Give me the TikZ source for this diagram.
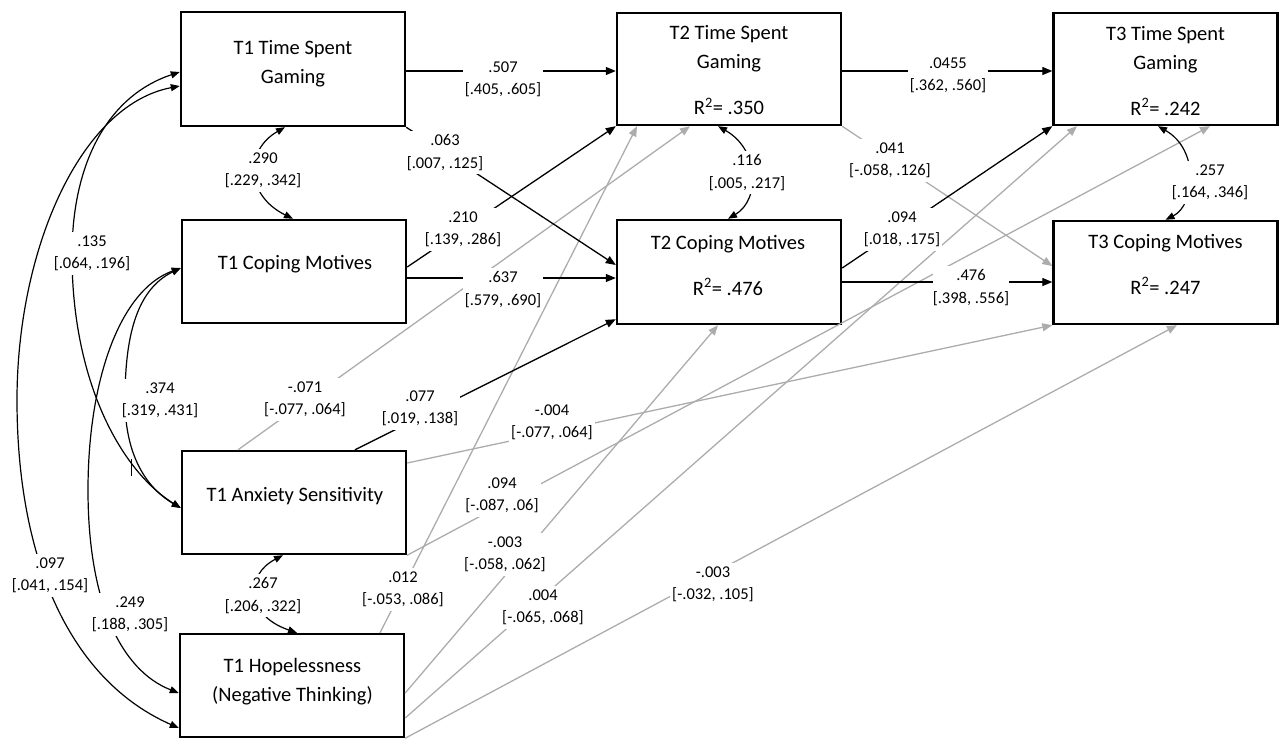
\documentclass[tikz,border=0pt]{standalone}
\usepackage{fontspec}
\setmainfont{Carlito}
\usetikzlibrary{arrows.meta,calc}
\definecolor{lg}{RGB}{172,172,172}
\begin{document}
\begin{tikzpicture}[x=1pt,y=-1pt,
  box/.style={draw, line width=2.4pt, minimum width=224pt, minimum height=103pt, inner sep=0pt},
  btxt/.style={align=center, font=\fontsize{20.5}{29}\selectfont, inner sep=0pt},
  lbl/.style={align=center, font=\fontsize{16.5}{22.5}\selectfont, fill=white, inner xsep=2pt, inner ysep=4pt},
  tip/.tip={Triangle[length=10pt,width=8pt]},
  blk/.style={line width=1.3pt, -tip},
  gry/.style={line width=1.3pt, draw=lg, -{Triangle[length=10pt,width=8pt,color=lg]}},
  cov/.style={line width=1.2pt, {Triangle[length=9pt,width=7pt]}-{Triangle[length=9pt,width=7pt]}},
]
\useasboundingbox (0,0) rectangle (1280,740);

% boxes
\node[box, minimum height=114pt] (t1g) at (293,69) {};
\node[box] (t1c) at (294,271.5) {};
\node[box] (t1a) at (294,502.5) {};
\node[box] (t1h) at (292,685.5) {};
\node[box, minimum height=112pt] (t2g) at (729,69) {};
\node[box, minimum height=104pt] (t2c) at (729,272) {};
\node[box, minimum height=112pt] (t3g) at (1165.5,69) {};
\node[box] (t3c) at (1165.5,272.5) {};

% box texts
\node[btxt] (t1gt) at (293,64) {T1 Time Spent\\Gaming};
\node[btxt] (t1ct) at (295,264.5) {T1 Coping Motives};
\node[btxt] (t1at) at (295,496.5) {T1 Anxiety Sensitivity};
\node[btxt] (t1ht) at (292.5,681.5) {T1 Hopelessness\\(Negative Thinking)};
\node[btxt] (t2gt) at (729,70.5) {T2 Time Spent\\Gaming\\[17pt]R\textsuperscript{2}= .350};
\node[btxt] (t2ct) at (728,265) {T2 Coping Motives\\[17pt]R\textsuperscript{2}= .476};
\node[btxt] (t3gt) at (1165.5,71) {T3 Time Spent\\Gaming\\[17pt]R\textsuperscript{2}= .242};
\node[btxt] (t3ct) at (1165.5,264.5) {T3 Coping Motives\\[17pt]R\textsuperscript{2}= .247};

% gray paths
\draw[gry] ([xshift=-56pt]t1a.north) -- ([xshift=-39pt]t2g.south);
\draw[gry] ([xshift=88pt]t1h.north) -- ([xshift=-92pt]t2g.south);
\draw[gry] ([yshift=39.5pt]t1a.east) -- (t3c.south west);
\draw[gry] (t1a.south east) -- ([xshift=44.5pt]t3g.south);
\draw[gry] ([yshift=-7.5pt]t1h.east) -- ([xshift=-11pt]t2c.south);
\draw[gry] ([yshift=-32.5pt]t1h.east) -- ([xshift=-88.5pt]t3g.south);
\draw[gry] (t1h.south east) -- ([xshift=11.5pt]t3c.south);
\draw[gry] (t2g.south east) -- ([yshift=6.5pt]t3c.west);

% black paths
\draw[blk] ([yshift=-2pt]t1g.east) -- ([yshift=-2pt]t2g.west);
\draw[blk] ([yshift=-2pt]t2g.east) -- ([yshift=-2pt]t3g.west);
\draw[blk] ([yshift=-6.5pt]t1c.east) -- ([yshift=-6pt]t2c.west);
\draw[blk] ([yshift=-10pt]t2c.east) -- ([yshift=-9.5pt]t3c.west);
\draw[blk] (t1g.south east) -- ([yshift=7pt]t2c.west);
\draw[blk] ([yshift=4.5pt]t1c.east) -- (t2g.south west);
\draw[blk] ([xshift=61pt]t1a.north) -- ([yshift=6pt]t2c.south west);
\draw[blk] ([yshift=4pt]t2c.east) -- (t3g.south west);

% covariances
\draw[cov] ([xshift=-8pt]t1g.south) .. controls (245,150) and (245,195) .. ([xshift=-1pt]t1c.north);
\draw[cov] ([xshift=-11pt]t2g.south) .. controls (760,150) and (760,200) .. ([xshift=-1pt]t2c.north);
\draw[cov] ([xshift=-7.5pt]t3g.south) .. controls (1200,150) and (1195,205) .. (t3c.north);
\draw[cov] ([xshift=-11pt]t1a.south) .. controls (245,575) and (245,615) .. ([xshift=5pt]t1h.north);
\coordinate (w135) at (72,255);
\coordinate (w097) at (17,400);
\coordinate (w374) at (125,400);
\coordinate (w249) at (88,490);
\draw[cov] ([yshift=-3pt]t1g.west) .. controls (110,95) and (72,160) .. (w135) .. controls (72,380) and (120,470) .. ([yshift=-5.5pt]t1a.west);
\draw[cov] ([yshift=-17pt]t1g.west) .. controls (80,105) and (17,250) .. (w097) .. controls (17,560) and (70,680) .. ([yshift=-42.5pt]t1h.west);
\draw[cov] ([yshift=3.5pt]t1c.west) .. controls (135,290) and (125,340) .. (w374) .. controls (125,460) and (150,490) .. ([yshift=-5.5pt]t1a.west);
\draw[cov] ([yshift=3.5pt]t1c.west) .. controls (120,290) and (88,380) .. (w249) .. controls (88,600) and (120,670) .. ([yshift=-7.5pt]t1h.west);
\draw[line width=1pt] (131.5,459) -- (131.5,476);

% labels
\node[lbl] (l290) at (263,170.5) {.290\\{}[.229, .342]};
\node[lbl] (l135) at (92,253.5) {.135\\{}[.064, .196]};
\node[lbl] (l374) at (160,400.5) {.374\\{}[.319, .431]};
\node[lbl] (l097) at (50,575.5) {.097\\{}[.041, .154]};
\node[lbl] (l249) at (130,614.5) {.249\\{}[.188, .305]};
\node[lbl] (l267) at (263,595.5) {.267\\{}[.206, .322]};
\node[lbl] (l507) at (503,79.5) {.507\\{}[.405, .605]};
\node[lbl] (l063) at (445,152.5) {.063\\{}[.007, .125]};
\node[lbl] (l210) at (463,229.5) {.210\\{}[.139, .286]};
\node[lbl] (l637) at (503,289.5) {.637\\{}[.579, .690]};
\node[lbl] (l071) at (305,399.5) {-.071\\{}[-.077, .064]};
\node[lbl] (l077) at (420,408.5) {.077\\{}[.019, .138]};
\node[lbl] (l004a) at (552,422.5) {-.004\\{}[-.077, .064]};
\node[lbl] (l094b) at (502,495.5) {.094\\{}[-.087, .06]};
\node[lbl] (l012) at (403,589.5) {.012\\{}[-.053, .086]};
\node[lbl] (l003a) at (505,554.5) {-.003\\{}[-.058, .062]};
\node[lbl] (l004b) at (543,607.5) {.004\\{}[-.065, .068]};
\node[lbl] (l003b) at (713,584.5) {-.003\\{}[-.032, .105]};
\node[lbl] (l116) at (747,172.5) {.116\\{}[.005, .217]};
\node[lbl] (l0455) at (948,75.5) {.0455\\{}[.362, .560]};
\node[lbl] (l041) at (890,160.5) {.041\\{}[-.058, .126]};
\node[lbl] (l094a) at (902,229.5) {.094\\{}[.018, .175]};
\node[lbl, inner xsep=0pt] (l476) at (971,287.5) {.476\\{}[.398, .556]};
\node[lbl] (l257) at (1210,182.5) {.257\\{}[.164, .346]};
\end{tikzpicture}
\end{document}
